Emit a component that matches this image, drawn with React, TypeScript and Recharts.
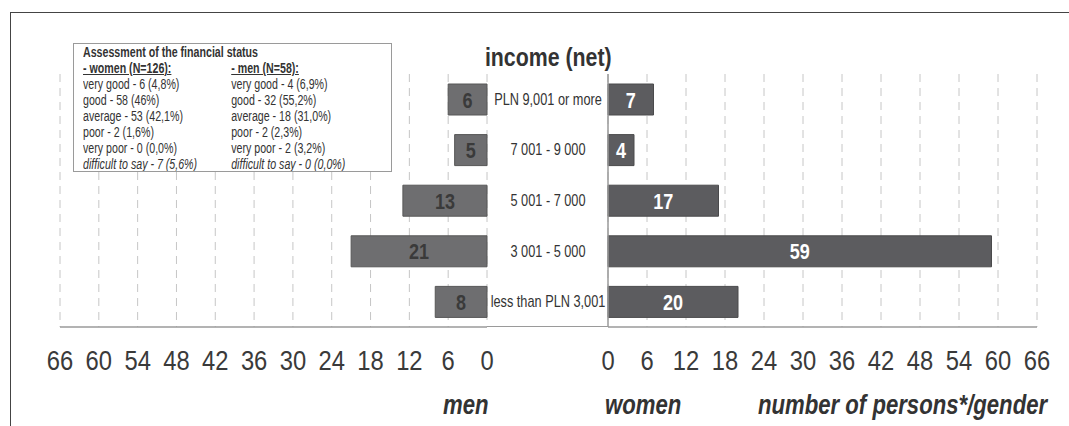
import { BarChart, Bar, XAxis, YAxis, CartesianGrid, LabelList } from "recharts";

const incomeBands = [
  "PLN 9,001 or more",
  "7 001 - 9 000",
  "5 001 - 7 000",
  "3 001 - 5 000",
  "less than PLN 3,001",
];
const menCounts = [6, 5, 13, 21, 8];
const womenCounts = [7, 4, 17, 59, 20];
const axisTicks = [0, 6, 12, 18, 24, 30, 36, 42, 48, 54, 60, 66];

const legendTitle = "Assessment of the financial status";
const womenHeader = "- women (N=126):";
const menHeader = "- men (N=58):";
const womenAssessment = [
  "very good - 6 (4,8%)",
  "good - 58 (46%)",
  "average - 53 (42,1%)",
  "poor - 2 (1,6%)",
  "very poor - 0 (0,0%)",
  "difficult to say - 7 (5,6%)",
];
const menAssessment = [
  "very good - 4 (6,9%)",
  "good - 32 (55,2%)",
  "average - 18 (31,0%)",
  "poor - 2 (2,3%)",
  "very poor - 2 (3,2%)",
  "difficult to say - 0 (0,0%)",
];

const data = incomeBands.map((band, i) => ({
  band,
  men: menCounts[i],
  women: womenCounts[i],
}));

// no Arial Narrow in the sandbox, so squeeze Liberation Sans horizontally
const FONT = "'Liberation Sans', Arial, sans-serif";
const AXIS = "#9a9a9a";
const GRID = "#c6c6c6";

const NarrowText = ({ x, y, sx = 0.82, anchor = "middle", size, weight = "normal", fill = "#333", dy = 0, children }: any) => (
  <text transform={`translate(${x},${y}) scale(${sx},1)`} dy={dy} textAnchor={anchor}
    fontFamily={FONT} fontSize={size} fontWeight={weight} fill={fill}>
    {children}
  </text>
);

const NumTick = ({ x, y, payload }: any) => (
  <NarrowText x={x} y={y} dy={43.5} size={27} sx={0.88} fill="#3a3a3a">{payload.value}</NarrowText>
);

const BandTick = ({ x, y, payload }: any) => (
  <NarrowText x={x - 60} y={y} dy={5.5} size={17} sx={0.75} fill="#333">{payload.value}</NarrowText>
);

const barValue = (fill: string) => (p: any) => (
  <NarrowText x={p.x + p.width / 2} y={p.y + p.height / 2} dy={8} size={22} sx={0.82} weight="bold" fill={fill}>
    {p.value}
  </NarrowText>
);

const narrowBox = (origin: string, sx = 0.82): any => ({
  display: "inline-block",
  transform: `scaleX(${sx})`,
  transformOrigin: origin,
  whiteSpace: "nowrap",
});

export default function App() {
  return (
    <div style={{ position: "absolute", left: 0, top: 0, width: 1069, height: 426, background: "#fff", fontFamily: FONT, overflow: "hidden" }}>
      {/* frame */}
      <div style={{ position: "absolute", left: 10, top: 12, width: 1070, height: 430, borderLeft: "1.5px solid #444", borderTop: "1.5px solid #444" }} />

      {/* men */}
      <div style={{ position: "absolute", left: 0, top: 0 }}>
        <BarChart width={530} height={426} data={data} layout="vertical" margin={{ top: 74, right: 43, left: 60, bottom: 0 }}>
          <CartesianGrid horizontal={false} stroke={GRID} strokeDasharray="8 6" />
          <XAxis type="number" domain={[0, 66]} ticks={axisTicks} interval={0} reversed height={99}
            axisLine={{ stroke: AXIS, strokeWidth: 1.5 }} tickLine={false} tickSize={0} tickMargin={0} tick={<NumTick />} />
          <YAxis type="category" dataKey="band" orientation="right" width={0} tick={false} tickLine={false}
            axisLine={{ stroke: AXIS, strokeWidth: 1.5 }} />
          <Bar dataKey="men" fill="#6e6e70" stroke="#575757" strokeWidth={1} barSize={31} isAnimationActive={false}>
            <LabelList dataKey="men" content={barValue("#3a3a3a")} />
          </Bar>
        </BarChart>
      </div>

      {/* women */}
      <div style={{ position: "absolute", left: 480, top: 0 }}>
        <BarChart width={589} height={426} data={data} layout="vertical" margin={{ top: 74, right: 32, left: 7, bottom: 0 }}>
          <CartesianGrid horizontal={false} stroke={GRID} strokeDasharray="8 6" />
          <XAxis type="number" domain={[0, 66]} ticks={axisTicks} interval={0} height={99}
            axisLine={{ stroke: AXIS, strokeWidth: 1.5 }} tickLine={false} tickSize={0} tickMargin={0} tick={<NumTick />} />
          <YAxis type="category" dataKey="band" width={121} tickLine={false} tickSize={0} tickMargin={0}
            axisLine={{ stroke: AXIS, strokeWidth: 1.5 }} tick={<BandTick />} />
          <Bar dataKey="women" fill="#5c5c5f" stroke="#4a4a4c" strokeWidth={1} barSize={31} isAnimationActive={false}>
            <LabelList dataKey="women" content={barValue("#fff")} />
          </Bar>
        </BarChart>
      </div>

      {/* baseline under the category labels */}
      <div style={{ position: "absolute", left: 487, top: 326, width: 121, height: 0, borderTop: `1.5px solid ${AXIS}` }} />

      {/* title */}
      <div style={{ position: "absolute", left: 448, top: 40, width: 200, textAlign: "center", fontSize: 26, fontWeight: "bold", color: "#333", lineHeight: "34px" }}>
        <span style={narrowBox("center")}>income (net)</span>
      </div>

      {/* legend box */}
      <div style={{ position: "absolute", left: 73, top: 43, width: 319, height: 129, border: "1px solid #9a9a9a", boxSizing: "border-box", background: "#fff", color: "#333", fontSize: 14, lineHeight: "16px", padding: "0 0 0 9px", overflow: "hidden" }}>
        <div style={{ transform: "scaleX(0.76)", transformOrigin: "left top", width: 400, whiteSpace: "nowrap" }}>
          <div style={{ fontWeight: "bold" }}>{legendTitle}</div>
          <div style={{ display: "flex" }}>
            <div style={{ width: 195 }}>
              <div style={{ fontWeight: "bold", textDecoration: "underline" }}>{womenHeader}</div>
              {womenAssessment.map((t, i) => (
                <div key={t} style={{ fontStyle: i === womenAssessment.length - 1 ? "italic" : "normal" }}>{t}</div>
              ))}
            </div>
            <div>
              <div style={{ fontWeight: "bold", textDecoration: "underline" }}>{menHeader}</div>
              {menAssessment.map((t, i) => (
                <div key={t} style={{ fontStyle: i === menAssessment.length - 1 ? "italic" : "normal" }}>{t}</div>
              ))}
            </div>
          </div>
        </div>
      </div>

      {/* bottom captions */}
      <div style={{ position: "absolute", top: 388, left: 0, width: 1069, height: 34, fontSize: 27, fontWeight: "bold", fontStyle: "italic", color: "#333", lineHeight: "34px" }}>
        <span style={{ position: "absolute", right: 1069 - 489 }}><span style={narrowBox("right")}>men</span></span>
        <span style={{ position: "absolute", left: 605 }}><span style={narrowBox("left")}>women</span></span>
        <span style={{ position: "absolute", left: 758 }}><span style={narrowBox("left")}>number of persons*/gender</span></span>
      </div>
    </div>
  );
}
